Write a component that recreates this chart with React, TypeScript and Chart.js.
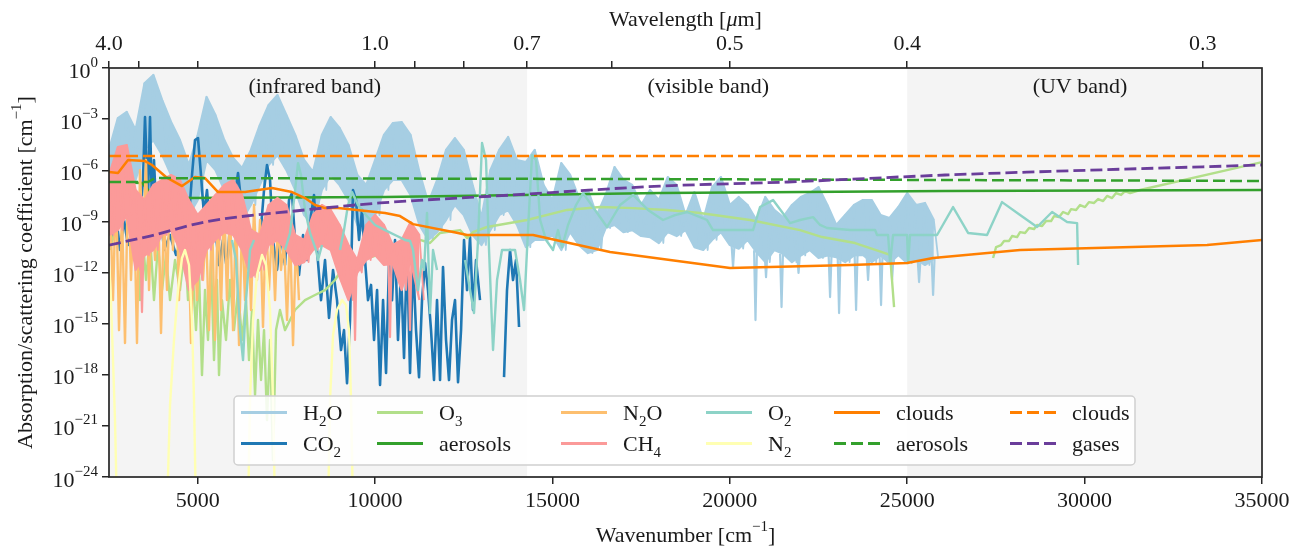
import React, { useEffect, useRef } from 'react';
import { Chart, registerables } from 'chart.js';

Chart.register(...registerables);

// ---------------- axes ----------------
const wavenumberMin = 2500;
const wavenumberMax = 35000;
const yMin = 1e-24;
const yMax = 1;
const wavenumberTicks = [5000, 10000, 15000, 20000, 25000, 30000, 35000];
const exponentTicks = [0, -3, -6, -9, -12, -15, -18, -21, -24];
const wavelengthTicks = [4.0, 3.0, 2.0, 1.0, 0.9, 0.8, 0.7, 0.6, 0.5, 0.4, 0.3];
const wavelengthTickLabels = ['4.0', '', '', '1.0', '', '', '0.7', '', '0.5', '0.4', '0.3'];

// ---------------- spectral bands ----------------
const bandNames = ['(infrared band)', '(visible band)', '(UV band)'];
const bandStart = [2500, 14286, 25000];
const bandEnd = [14286, 25000, 35000];
const bandShaded = [true, false, true];
const bandLabelWavenumber = [8300, 19390, 29870];
const bandLabelExponent = -1.47;

// ---------------- H2O (upper / lower envelope, log10) ----------------
const h2oStart = 2500;
const h2oStep = 250;
const h2oHi = [-4.81, -2.94, -2.58, -3.64, -0.9, -0.41, -1.88, -3.17, -4.23, -5.69,
  -3.93, -1.70, -2.76, -4.23, -5.28, -5.87, -4.81, -3.35, -2.17, -1.59,
  -2.76, -3.93, -5.40, -6.10, -3.93, -2.88, -3.52, -4.52, -6.28, -6.87,
  -5.40, -3.93, -3.23, -3.17, -3.93, -6.10, -7.92, -6.57, -4.81, -4.11,
  -4.81, -6.87, -8.75, -5.99, -4.81, -4.05, -5.40, -5.52, -4.81, -6.87,
  -7.75, -5.58, -6.28, -7.63, -7.16, -8.63, -7.45, -5.81, -6.57, -6.87,
  -8.04, -7.16, -7.75, -6.40, -6.87, -8.63, -7.28, -8.92, -6.99, -6.40,
  -8.04, -7.57, -8.04, -8.92, -7.57, -8.33, -8.75, -8.04, -7.57, -7.34,
  -6.99, -8.04, -9.21, -8.63, -8.04, -7.75, -7.75, -8.63, -8.80, -8.16,
  -7.34, -8.04, -7.92, -8.92];
const h2oLo = [-7.16, -5.99, -5.69, -6.57, -4.81, -4.23, -5.11, -6.28, -7.45, -8.63,
  -7.75, -5.40, -5.99, -7.16, -8.33, -8.92, -8.04, -6.87, -5.69, -5.11,
  -5.99, -7.16, -8.63, -9.21, -7.16, -6.28, -6.87, -7.75, -9.21, -9.80,
  -8.63, -7.16, -6.57, -6.57, -7.45, -9.21, -10.09, -9.63, -8.92, -8.04,
  -8.63, -9.80, -10.39, -9.51, -8.63, -8.33, -9.21, -10.51, -10.09, -10.09,
  -9.80, -10.68, -9.63, -10.39, -10.86, -10.68, -9.39, -9.21, -9.63, -9.51,
  -9.86, -9.92, -10.27, -9.63, -9.86, -9.51, -10.51, -10.68, -10.09, -9.63,
  -10.39, -10.6, -10.09, -10.8, -11.39, -10.68, -10.9, -11.39, -11.0, -10.68,
  -11.15, -11.0, -11.1, -11.39, -11.0, -10.97, -11.39, -11.0, -11.45, -10.97,
  -11.45, -11.2, -11.56, -11.2];
// narrow downward H2O lines (wavenumber, bottom, surrounding level)
const h2oSpikeWn = [20090, 20723, 21020, 21457, 21936, 22825, 23079, 23558, 23896, 24262, 24573, 25334, 25729];
const h2oSpikeLog = [-11.68, -14.79, -12.27, -14.03, -12.03, -13.44, -14.38, -14.20, -12.44, -13.91, -12.44, -12.56, -13.32];
const h2oSpikeBase = [-10.4, -10.7, -10.8, -10.9, -10.9, -11.0, -11.0, -11.0, -11.0, -11.0, -11.0, -11.2, -11.2];

// ---------------- CH4 (upper / lower envelope, log10) ----------------
const ch4Start = 2500;
const ch4Step = 250;
const ch4Hi = [-6.28, -4.64, -4.52, -7.16, -7.75, -6.87, -6.57, -6.28, -6.57, -7.75,
  -8.63, -8.04, -7.45, -6.87, -6.57, -7.45, -9.51, -9.80, -8.04, -7.63,
  -8.04, -9.80, -10.09, -8.63, -8.04, -8.33, -9.21, -10.39, -11.27, -9.21,
  -8.63, -9.21, -10.39, -10.09, -9.04, -9.80];
const ch4Lo = [-9.80, -9.51, -8.63, -11.85, -11.0, -10.68, -9.80, -9.51, -10.68, -13.03,
  -12.44, -10.68, -10.09, -9.63, -9.80, -10.68, -12.27, -11.85, -10.39, -10.09,
  -10.68, -11.56, -11.39, -10.68, -10.39, -10.68, -12.27, -13.62, -12.0, -11.27,
  -10.97, -11.56, -11.5, -13.03, -11.3, -13.62];
const ch4SpikeWn = [3430, 9435, 10421, 10985];
const ch4SpikeLog = [-14.32, -15.96, -15.79, -15.38];
const ch4SpikeBase = [-10.8, -11.8, -11.4, -11.2];

// ---------------- CO2 ----------------
const co2Wn = [2585, 2697, 2810, 2923, 3036, 3177, 3317, 3458, 3515, 3599,
  3656, 3712, 3768, 3853, 3938, 4050, 4220, 4389, 4558, 4727,
  4840, 4924, 5009, 5093, 5178, 5262, 5375, 5488, 5601, 5714,
  5826, 5939, 6052, 6137, 6221, 6306, 6419, 6531, 6644, 6757,
  6870, 6954, 7039, 7123, 7236, 7349, 7461, 7574, 7658, 7743,
  7856, 7969, 8081, 8194, 8279, 8364, 8476, 8589, 8702, 8815,
  8927, 9040, 9124, 9209, 9294, 9378, 9463, 9548, 9632, 9717,
  9801, 9886, 9971, 10056, 10140, 10225, 10309, 10393, 10478, 10562,
  10646, 10731, 10816, 10900, 10985, 11070, 11154, 11239, 11323, 11408,
  11492, 11577, 11661, 11746, 11831, 11915, 12000, 12084, 12169, 12253,
  12338, 12423, 12507, 12592, 12677, 12761, 12846, 12958, 13300, 13635,
  13719, 13804, 13888, 13973, 14058];
const co2Log = [-10.09, -8.63, -10.68, -8.92, -10.39, -9.51, -10.68, -6.57, -2.88, -7.75,
  -2.88, -8.33, -5.40, -9.51, -8.04, -10.68, -9.80, -10.97, -10.09, -9.51,
  -6.28, -4.23, -4.11, -6.28, -8.63, -7.16, -10.09, -9.21, -11.56, -10.09,
  -11.85, -8.33, -7.45, -6.16, -7.75, -9.80, -10.68, -9.51, -11.56, -10.09,
  -7.16, -5.69, -6.57, -10.09, -11.85, -9.80, -11.56, -7.75, -7.34, -10.09,
  -12.15, -9.80, -11.27, -8.63, -7.45, -10.68, -13.62, -11.27, -14.67, -11.85,
  -13.62, -16.55, -15.38, -18.49, -14.79, -7.16, -7.75, -10.09, -8.33, -11.27,
  -13.62, -12.73, -15.96, -13.03, -18.60, -13.62, -17.90, -11.45, -13.62, -10.09,
  -15.96, -11.85, -17.02, -10.68, -17.90, -11.27, -15.38, -18.14, -13.62, -11.45,
  -13.03, -15.38, -18.31, -13.62, -18.31, -11.68, -15.96, -18.31, -14.79, -13.62,
  -18.43, -15.38, -10.09, -13.03, -9.92, -14.20, -11.27, -13.62, null, -18.14,
  -13.03, -10.68, -12.44, -11.27, -15.20];

// ---------------- O3 ----------------
const o3Wn = [2528, 2669, 2810, 2951, 3036, 3120, 3205, 3289, 3374, 3458,
  3543, 3656, 3768, 3881, 3994, 4107, 4220, 4361, 4501, 4642,
  4727, 4840, 4952, 5037, 5121, 5206, 5291, 5375, 5460, 5544,
  5601, 5685, 5798, 5911, 6024, 6137, 6250, 6362, 6447, 6531,
  6616, 6700, 6785, 6870, 6954, 7039, 7123, 7208, 7320, 7461,
  7743, 8025, 8307, 8589, 8871, 9153, 9237, 9519, 9801, 10084,
  10225, 10421, 10562, 10703, 10844, 10985, 11267, 11549, 11831, 12395,
  12592, 12761, 13156, 14283, 15411, 16341, 17271, 18230, 19160, 20569,
  21979, 22600, 23530, 24291, 24517, 24629, 26000,
  27420, 27504, 27645, 27730, 27871, 27955, 28096, 28181, 28322, 28435,
  28576, 28660, 28801, 28914, 29055, 29139, 29280, 29393, 29534, 29619,
  29760, 29872, 30013, 30126, 30267, 30380, 30521, 30633, 30774, 30887,
  31028, 31141, 31282, 31563, 35000];
const o3Log = [-10.68, -9.51, -8.63, -8.04, -9.21, -8.63, -11.27, -9.51, -13.62, -10.09,
  -12.44, -9.80, -13.62, -10.39, -13.03, -10.97, -13.62, -11.27, -13.03, -10.39,
  -13.62, -11.27, -15.38, -11.85, -18.02, -13.03, -15.96, -11.27, -17.14, -12.44,
  -18.02, -13.62, -15.96, -12.44, -15.38, -13.03, -15.96, -13.62, -17.14, -14.20,
  -19.19, -14.79, -18.31, -15.38, -20.66, -15.96, -23.00, -15.38, -14.20, -15.38,
  -14.20, -13.62, -13.32, -13.03, -12.44, -11.56, -12.03, -11.45, -11.15, -10.97,
  -11.27, -11.15, -10.39, -10.68, -10.27, -10.56, -10.09, -10.27, -9.68, -9.51,
  -9.98, -9.63, -9.33, -8.92, -8.33, -8.16, -8.22, -8.33, -8.51, -8.92,
  -9.51, -9.92, -10.27, -10.80, -10.97, -14.03, null,
  -11.15, -10.51, -10.39, -10.15, -10.15, -9.86, -9.92, -9.63, -9.68, -9.39,
  -9.45, -9.21, -9.27, -8.98, -8.98, -8.69, -8.75, -8.45, -8.57, -8.28,
  -8.33, -8.04, -8.16, -7.87, -7.92, -7.69, -7.81, -7.51, -7.63, -7.34,
  -7.45, -7.22, -7.34, -7.16, -5.52];

// ---------------- N2O ----------------
const n2oWn = [2528, 2613, 2697, 2782, 2866, 2951, 3036, 3120, 3205, 3289,
  3374, 3458, 3543, 3628, 3712, 3797, 3881, 3966, 4050, 4135,
  4220, 4304, 4389, 4473, 4558, 4642, 4727, 4811, 4896, 4980,
  5065, 5150, 5234, 5319, 5403, 5488, 5573, 5657, 5742, 5826,
  5911, 5996, 6080, 6165, 6250, 6334, 6419, 6503, 6588, 6672,
  6757, 6841, 6926, 7011, 7095, 7180, 7264, 7349, 7433, 7518,
  7602, 7687, 7771, 7856];
const n2oLog = [-7.75, -13.62, -6.87, -15.38, -8.33, -16.14, -6.28, -12.44, -7.75, -16.14,
  -5.99, -10.68, -5.40, -13.03, -7.75, -11.27, -7.45, -15.55, -8.33, -13.03,
  -6.57, -10.68, -6.46, -13.62, -7.75, -11.85, -8.63, -16.14, -9.51, -13.62,
  -10.09, -12.44, -9.21, -15.38, -8.63, -15.96, -7.75, -14.20, -7.45, -13.62,
  -8.04, -15.38, -8.33, -16.26, -8.92, -13.62, -8.63, -14.20, -8.04, -12.44,
  -8.92, -15.20, -8.63, -13.03, -9.21, -13.62, -8.92, -11.85, -10.09, -14.79,
  -9.51, -16.26, -10.09, -13.62];

// ---------------- O2 ----------------
const o2Wn = [5967, 6080, 6193, 6278, 6362, 6475, 6588, 7000,
  7461, 7602, 7715, 7828, 7912, 8025, 8166, 8335, 8392, 8505, 8750,
  9012, 9124, 9237, 9350, 9519, 9745, 9999, 10281, 10562, 10844,
  10985, 11070, 11210, 11323, 11380, 11464, 11549, 11633, 11746, 12100,
  12535, 12677, 12789, 12902, 13015, 13127, 13212, 13325, 13438, 13578,
  13945, 14086, 14199, 14311, 14424, 14537, 14653, 14819, 15016, 15157,
  15270, 15439, 15665, 15862, 16200, 16538, 16905, 17271, 17694, 18117,
  18455, 18794, 19160, 19357, 19526, 20090, 20654, 20851, 21218, 21471,
  21697, 21979, 22346, 22543, 22740, 23389, 24093, 24150, 24460, 24517,
  24601, 24996, 25024, 25080, 25841, 26292, 26715, 27250, 27673, 28181,
  28660, 29083, 29506, 29788, 29816];
const o2Log = [-10.09, -11.27, -15.38, -17.14, -13.62, -10.68, -10.09, null,
  -10.68, -9.68, -7.75, -5.58, -6.28, -8.33, -9.68, -10.68, -11.27, -10.39, null,
  -10.68, -9.51, -8.04, -7.28, -8.04, -8.63, -9.21, -9.51, -9.80, -10.09,
  -10.15, -10.68, -13.03, -11.27, -11.85, -8.51, -14.38, -10.68, -11.85, null,
  -11.27, -13.03, -14.38, -10.09, -4.40, -5.40, -10.68, -16.55, -12.44, -10.68,
  -10.68, -12.44, -14.20, -9.51, -5.11, -5.40, -8.92, -10.09, -10.68, -9.51,
  -10.51, -9.21, -8.04, -7.34, -8.33, -9.33, -8.04, -7.45, -8.33, -8.92,
  -8.63, -8.45, -8.75, -8.92, -9.51, -9.51, -9.51, -8.16, -7.75, -8.45,
  -9.10, -8.92, -8.75, -9.21, -9.39, -9.51, -9.51, -9.80, -9.80, -11.45,
  -9.80, -9.80, -11.45, -9.80, -9.80, -8.16, -9.68, -9.80, -7.87, -8.63,
  -9.33, -8.45, -9.04, -9.10, -11.56];

// ---------------- N2 ----------------
const n2Wn = [2500, 2556, 2613, 2669, 2726, 3500,
  4135, 4220, 4332, 4445, 4558, 4642, 4755, 4840, 4896, 4952, 5600,
  6419, 6475, 6560, 6672, 6813, 6926, 7039, 7123, 7180, 8000,
  8674, 8730, 8815, 8927, 9068, 9181, 9265, 9322, 9378];
const n2Log = [-11.56, -13.62, -17.14, -20.66, -26, null,
  -26, -19.78, -15.96, -13.03, -11.15, -10.68, -11.56, -14.79, -19.48, -26, null,
  -26, -19.48, -14.79, -12.15, -10.97, -11.56, -14.20, -19.48, -26, null,
  -26, -19.48, -15.67, -14.20, -13.62, -13.91, -15.38, -19.48, -26];

// ---------------- aerosols / clouds / gases ----------------
const aerosolAbsWn = [2500, 3430, 3656, 3881, 4642, 10281, 18032, 26066, 35000];
const aerosolAbsLog = [-6.69, -6.75, -7.28, -7.57, -7.63, -7.57, -7.34, -7.22, -7.16];
const cloudAbsWn = [2500, 2754, 3036, 3515, 3712, 4107, 4558, 4924, 5206, 5573,
  6334, 7095, 7658, 8025, 8307, 8589, 8956, 10281, 10703, 11070,
  12338, 12592, 14453, 16623, 20006, 23389, 24996, 25729, 28181, 33453, 35000];
const cloudAbsLog = [-6.10, -6.16, -5.40, -5.46, -5.69, -6.40, -6.93, -6.40, -6.46, -7.28,
  -7.28, -7.04, -7.28, -7.63, -8.04, -8.22, -8.22, -8.51, -8.69, -9.16,
  -9.68, -9.80, -9.80, -10.80, -11.74, -11.56, -11.44, -11.15, -10.68, -10.39, -10.09];
const aerosolScaWn = [2500, 3599, 3797, 18032, 35000];
const aerosolScaLog = [-6.69, -6.69, -6.46, -6.52, -6.63];
const cloudScaWn = [2500, 35000];
const cloudScaLog = [-5.17, -5.17];
const gasScaWn = [2500, 3656, 5206, 8025, 10140, 13888, 18032, 21640, 26066, 35000];
const gasScaLog = [-10.39, -9.86, -9.04, -8.33, -7.92, -7.45, -6.93, -6.69, -6.28, -5.69];

// ---------------- helpers ----------------
type Part = { t: string; sub?: boolean; sup?: boolean; it?: boolean };
type Pt = { x: number; y: number | null };
const FONT = '"Liberation Serif", "Times New Roman", Times, serif';
const TEXT = '#1a1a1a';
const AXIS = '#262626';
const SHADE = '#f4f4f4';

const toPoints = (wn: number[], lg: (number | null)[]): Pt[] =>
  wn.map((x, i) => ({ x, y: lg[i] === null ? null : Math.pow(10, lg[i] as number) }));
const gridPoints = (start: number, step: number, lg: number[]): Pt[] =>
  lg.map((v, i) => ({ x: start + step * i, y: Math.pow(10, v) }));
// scribble through the band: upper value, then lower value half a step later
const scribblePoints = (start: number, step: number, hi: number[], lo: number[]): Pt[] => {
  const out: Pt[] = [];
  hi.forEach((h, i) => {
    out.push({ x: start + step * i, y: Math.pow(10, h) });
    out.push({ x: start + step * i + step / 2, y: Math.pow(10, lo[i]) });
  });
  return out;
};
const spikePoints = (wn: number[], deep: number[], base: number[]): Pt[] => {
  const out: Pt[] = [];
  wn.forEach((w, i) => {
    out.push({ x: w - 40, y: Math.pow(10, base[i]) });
    out.push({ x: w, y: Math.pow(10, deep[i]) });
    out.push({ x: w + 40, y: Math.pow(10, base[i]) });
    out.push({ x: w + 41, y: null });
  });
  return out;
};

const DASH = [12, 5];
type Series = {
  name: string; parts: Part[]; color: string; dash: number[]; width: number;
  data: Pt[]; lower?: Pt[]; scribble?: Pt[]; spikes?: Pt[]; smooth?: boolean;
};
const series: Series[] = [
  { name: 'H2O', parts: [{ t: 'H' }, { t: '2', sub: true }, { t: 'O' }], color: '#a6cee3', dash: [], width: 2.2,
    data: gridPoints(h2oStart, h2oStep, h2oHi), lower: gridPoints(h2oStart, h2oStep, h2oLo),
    scribble: scribblePoints(h2oStart, h2oStep, h2oHi, h2oLo), spikes: spikePoints(h2oSpikeWn, h2oSpikeLog, h2oSpikeBase) },
  { name: 'CO2', parts: [{ t: 'CO' }, { t: '2', sub: true }], color: '#1f78b4', dash: [], width: 2.6, data: toPoints(co2Wn, co2Log) },
  { name: 'O3', parts: [{ t: 'O' }, { t: '3', sub: true }], color: '#b2df8a', dash: [], width: 2.4, data: toPoints(o3Wn, o3Log) },
  { name: 'aerosols', parts: [{ t: 'aerosols' }], color: '#33a02c', dash: [], width: 2.5, data: toPoints(aerosolAbsWn, aerosolAbsLog) },
  { name: 'N2O', parts: [{ t: 'N' }, { t: '2', sub: true }, { t: 'O' }], color: '#fdbf6f', dash: [], width: 2.4, data: toPoints(n2oWn, n2oLog) },
  { name: 'CH4', parts: [{ t: 'CH' }, { t: '4', sub: true }], color: '#fb9a99', dash: [], width: 2.2,
    data: gridPoints(ch4Start, ch4Step, ch4Hi), lower: gridPoints(ch4Start, ch4Step, ch4Lo),
    scribble: scribblePoints(ch4Start, ch4Step, ch4Hi, ch4Lo), spikes: spikePoints(ch4SpikeWn, ch4SpikeLog, ch4SpikeBase) },
  { name: 'O2', parts: [{ t: 'O' }, { t: '2', sub: true }], color: '#8dd3c7', dash: [], width: 2.4, data: toPoints(o2Wn, o2Log) },
  { name: 'N2', parts: [{ t: 'N' }, { t: '2', sub: true }], color: '#ffffb3', dash: [], width: 2.4, data: toPoints(n2Wn, n2Log) },
  { name: 'clouds', parts: [{ t: 'clouds' }], color: '#ff7f00', dash: [], width: 2.5, data: toPoints(cloudAbsWn, cloudAbsLog) },
  { name: 'aerosols (scattering)', parts: [{ t: 'aerosols' }], color: '#33a02c', dash: DASH, width: 2.5, data: toPoints(aerosolScaWn, aerosolScaLog) },
  { name: 'clouds (scattering)', parts: [{ t: 'clouds' }], color: '#ff7f00', dash: DASH, width: 2.5, data: toPoints(cloudScaWn, cloudScaLog) },
  { name: 'gases', parts: [{ t: 'gases' }], color: '#6a3d9a', dash: DASH, width: 2.8, data: toPoints(gasScaWn, gasScaLog), smooth: true },
];

const partFont = (p: Part, size: number) =>
  `${p.it ? 'italic ' : ''}${p.sub || p.sup ? Math.round(size * 0.7) : size}px ${FONT}`;
const richWidth = (ctx: CanvasRenderingContext2D, parts: Part[], size: number) => {
  let w = 0;
  for (const p of parts) { ctx.font = partFont(p, size); w += ctx.measureText(p.t).width; }
  return w;
};
const drawRich = (ctx: CanvasRenderingContext2D, parts: Part[], x: number, y: number, size: number, align: 'left' | 'center' | 'right') => {
  const w = richWidth(ctx, parts, size);
  let cx = align === 'left' ? x : align === 'center' ? x - w / 2 : x - w;
  ctx.textAlign = 'left';
  ctx.textBaseline = 'alphabetic';
  for (const p of parts) {
    ctx.font = partFont(p, size);
    const dy = p.sub ? size * 0.27 : p.sup ? -size * 0.5 : 0;
    ctx.fillText(p.t, cx, y + dy);
    cx += ctx.measureText(p.t).width;
  }
};

const FS = 22;

const decorPlugin = {
  id: 'decor',
  beforeDraw(chart: any) {
    const { ctx, chartArea, scales } = chart;
    const x = scales.x;
    ctx.save();
    ctx.fillStyle = '#ffffff';
    ctx.fillRect(0, 0, chart.width, chart.height);
    for (let i = 0; i < bandNames.length; i++) {
      if (!bandShaded[i]) continue;
      const x0 = x.getPixelForValue(bandStart[i]);
      const x1 = x.getPixelForValue(bandEnd[i]);
      ctx.fillStyle = SHADE;
      ctx.fillRect(x0, chartArea.top, x1 - x0, chartArea.bottom - chartArea.top);
    }
    ctx.restore();
  },
  afterDatasetsDraw(chart: any) {
    const { ctx, chartArea } = chart;
    ctx.save();
    ctx.strokeStyle = AXIS;
    ctx.lineWidth = 1.7;
    ctx.strokeRect(chartArea.left, chartArea.top, chartArea.right - chartArea.left, chartArea.bottom - chartArea.top);
    ctx.restore();
  },
  afterDraw(chart: any) {
    const { ctx, chartArea, scales } = chart;
    const { left, right, top, bottom } = chartArea;
    const x = scales.x;
    const y = scales.y;
    ctx.save();
    ctx.fillStyle = TEXT;

    for (let i = 0; i < bandNames.length; i++) {
      drawRich(ctx, [{ t: bandNames[i] }], x.getPixelForValue(bandLabelWavenumber[i]), y.getPixelForValue(Math.pow(10, bandLabelExponent)), FS, 'center');
    }
    for (const v of wavenumberTicks) {
      drawRich(ctx, [{ t: String(v) }], x.getPixelForValue(v), bottom + 30, FS, 'center');
    }
    wavelengthTicks.forEach((l, i) => {
      if (!wavelengthTickLabels[i]) return;
      drawRich(ctx, [{ t: wavelengthTickLabels[i] }], x.getPixelForValue(1e4 / l), top - 18, FS, 'center');
    });
    for (const e of exponentTicks) {
      const py = y.getPixelForValue(Math.pow(10, e));
      drawRich(ctx, [{ t: '10' }, { t: e === 0 ? '0' : '\u2212' + Math.abs(e), sup: true }], left - 11, py + 9.5, FS, 'right');
    }

    const cx = (left + right) / 2;
    drawRich(ctx, [{ t: 'Wavenumber [cm' }, { t: '\u22121', sup: true }, { t: ']' }], cx, bottom + 65, FS, 'center');
    drawRich(ctx, [{ t: 'Wavelength [' }, { t: '\u03bc', it: true }, { t: 'm]' }], cx, top - 42, FS, 'center');
    ctx.save();
    ctx.translate(left - 77, (top + bottom) / 2);
    ctx.rotate(-Math.PI / 2);
    drawRich(ctx, [{ t: 'Absorption/scattering coefficient [cm' }, { t: '\u22121', sup: true }, { t: ']' }], 0, 0, FS, 'center');
    ctx.restore();

    // legend
    const bx = 234, by = 396, bw = 901, bh = 69, r = 4;
    ctx.beginPath();
    ctx.moveTo(bx + r, by);
    ctx.lineTo(bx + bw - r, by);
    ctx.arcTo(bx + bw, by, bx + bw, by + r, r);
    ctx.lineTo(bx + bw, by + bh - r);
    ctx.arcTo(bx + bw, by + bh, bx + bw - r, by + bh, r);
    ctx.lineTo(bx + r, by + bh);
    ctx.arcTo(bx, by + bh, bx, by + bh - r, r);
    ctx.lineTo(bx, by + r);
    ctx.arcTo(bx, by, bx + r, by, r);
    ctx.closePath();
    ctx.fillStyle = 'rgba(255,255,255,0.85)';
    ctx.fill();
    ctx.strokeStyle = '#d0d0d0';
    ctx.lineWidth = 1.5;
    ctx.stroke();

    const colX = [241, 377, 561, 706, 834, 1010];
    const rowBase = [420, 451];
    series.forEach((s, j) => {
      const col = Math.floor(j / 2);
      const row = j % 2;
      const hx = colX[col];
      const hy = rowBase[row] - 7.5;
      ctx.save();
      ctx.strokeStyle = s.color;
      ctx.lineWidth = 3;
      ctx.setLineDash(s.dash);
      ctx.beginPath();
      ctx.moveTo(hx, hy);
      ctx.lineTo(hx + 46, hy);
      ctx.stroke();
      ctx.restore();
      ctx.fillStyle = TEXT;
      drawRich(ctx, s.parts, hx + 62, rowBase[row], FS, 'left');
    });

    ctx.restore();
  },
};

const gridOpts = {
  display: true,
  drawOnChartArea: false,
  drawTicks: true,
  tickLength: 7,
  color: AXIS,
  lineWidth: 1.5,
};

const buildDatasets = () => {
  const out: any[] = [];
  let order = 1000;
  const base = (s: Series, data: Pt[], label: string) => ({
    label,
    data,
    borderColor: s.color,
    backgroundColor: s.color,
    borderWidth: s.width,
    borderDash: s.dash,
    borderJoinStyle: 'round',
    pointRadius: 0,
    pointHoverRadius: 0,
    fill: false,
    tension: 0,
    cubicInterpolationMode: s.smooth ? 'monotone' : 'default',
    spanGaps: false,
    clip: 0,
  });
  for (const s of series) {
    if (s.lower) {
      out.push({ ...base(s, s.data, s.name), fill: '+1', order: order-- });
      out.push({ ...base(s, s.lower, s.name + ' lower'), order: order-- });
      if (s.scribble) out.push({ ...base(s, s.scribble, s.name + ' scribble'), borderWidth: 1.8, order: order-- });
      if (s.spikes) out.push({ ...base(s, s.spikes, s.name + ' lines'), order: order-- });
    } else {
      out.push({ ...base(s, s.data, s.name), order: order-- });
    }
  }
  return out;
};

export default function App() {
  const canvasRef = useRef<HTMLCanvasElement | null>(null);

  useEffect(() => {
    if (!canvasRef.current) return;
    const chart = new Chart(canvasRef.current, {
      type: 'line',
      data: { datasets: buildDatasets() },
      options: {
        animation: false,
        responsive: true,
        maintainAspectRatio: false,
        events: [],
        layout: { padding: { left: 0, right: 38, top: 0, bottom: 0 } },
        plugins: { legend: { display: false }, tooltip: { enabled: false } },
        scales: {
          x: {
            type: 'linear',
            position: 'bottom',
            min: wavenumberMin,
            max: wavenumberMax,
            afterBuildTicks: (s: any) => { s.ticks = wavenumberTicks.map((v) => ({ value: v })); },
            afterFit: (s: any) => { s.height = 71; },
            ticks: { display: false },
            grid: gridOpts,
            border: { display: false },
          },
          xTop: {
            type: 'linear',
            position: 'top',
            min: wavenumberMin,
            max: wavenumberMax,
            afterBuildTicks: (s: any) => { s.ticks = wavelengthTicks.map((l) => ({ value: 1e4 / l })); },
            afterFit: (s: any) => { s.height = 68; },
            ticks: { display: false },
            grid: gridOpts,
            border: { display: false },
          },
          y: {
            type: 'logarithmic',
            position: 'left',
            min: yMin,
            max: yMax,
            afterBuildTicks: (s: any) => { s.ticks = exponentTicks.map((e) => ({ value: Math.pow(10, e) })); },
            afterFit: (s: any) => { s.width = 109; },
            ticks: { display: false },
            grid: gridOpts,
            border: { display: false },
          },
        } as any,
      },
      plugins: [decorPlugin],
    });
    return () => chart.destroy();
  }, []);

  return (
    <div style={{ position: 'fixed', left: 0, top: 0, width: 1300, height: 548, background: '#fff' }}>
      <canvas ref={canvasRef} />
    </div>
  );
}
